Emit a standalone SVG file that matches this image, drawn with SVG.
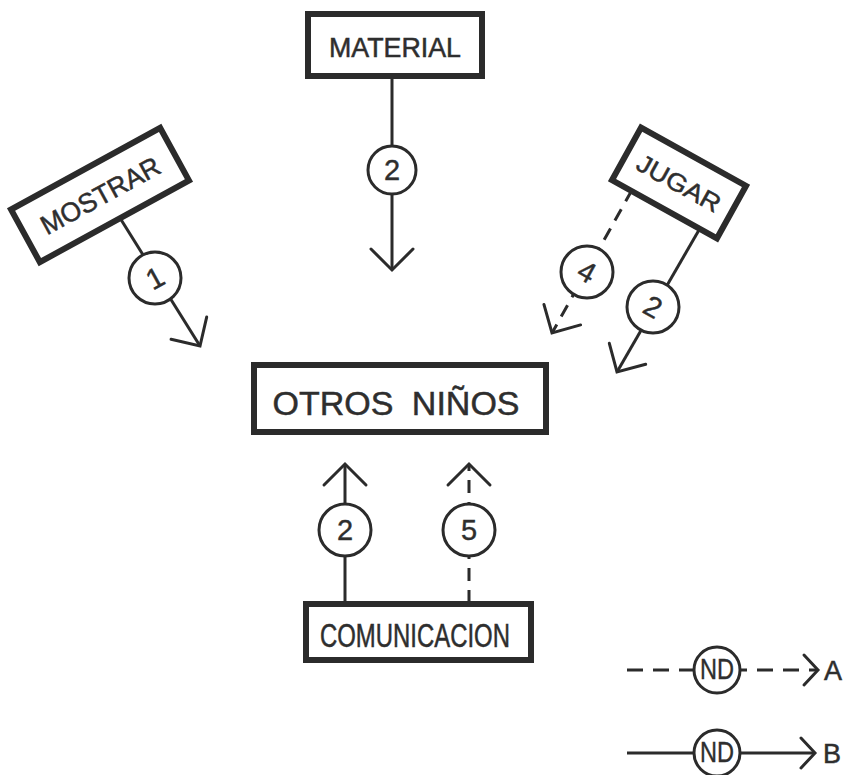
<svg xmlns="http://www.w3.org/2000/svg" width="844" height="775" viewBox="0 0 844 775">
  <style>
    .box { fill: #ffffff; stroke: #2b2b2b; stroke-width: 6; }
    .lbl { font-family: "Liberation Sans", Arial, sans-serif; fill: #2e2e2e; stroke: #2e2e2e; stroke-width: 0.5; text-anchor: middle; }
    .ln { fill: none; stroke: #2b2b2b; stroke-width: 3; }
    .dash { stroke-dasharray: 13 9; }
    .ldash { stroke-dasharray: 16 10; }
    .circ { fill: #ffffff; stroke: #2b2b2b; stroke-width: 3; }
    .num { font-family: "Liberation Sans", Arial, sans-serif; fill: #2e2e2e; stroke: #2e2e2e; stroke-width: 0.4; text-anchor: middle; font-size: 29px; }
  </style>
  <defs>
    <marker id="arr" markerUnits="userSpaceOnUse" markerWidth="60" markerHeight="60" viewBox="-30 -30 60 60" refX="0" refY="0" orient="auto" overflow="visible">
      <path d="M-21,-21 L0,0 L-21,21" fill="none" stroke="#2b2b2b" stroke-width="3" stroke-linecap="round" stroke-linejoin="miter"/>
    </marker>
    <marker id="arrs" markerUnits="userSpaceOnUse" markerWidth="40" markerHeight="40" viewBox="-20 -20 40 40" refX="0" refY="0" orient="auto" overflow="visible">
      <path d="M-14,-15 L0,0 L-14,15" fill="none" stroke="#2b2b2b" stroke-width="3" stroke-linecap="round"/>
    </marker>
  </defs>
  <rect width="844" height="775" fill="#ffffff"/>

  <g id="connectors">
    <!-- MATERIAL -> OTROS NIÑOS -->
    <line class="ln" x1="392" y1="78" x2="392" y2="270" marker-end="url(#arr)"/>
    <!-- MOSTRAR -> OTROS NIÑOS -->
    <line class="ln" x1="120" y1="218" x2="200" y2="346" marker-end="url(#arr)"/>
    <!-- JUGAR dashed -> OTROS NIÑOS -->
    <line class="ln dash" x1="632" y1="190" x2="552" y2="333" marker-end="url(#arr)"/>
    <!-- JUGAR solid -> OTROS NIÑOS -->
    <line class="ln" x1="699" y1="230" x2="617" y2="372" marker-end="url(#arr)"/>
    <!-- COMUNICACION -> OTROS NIÑOS -->
    <line class="ln" x1="345" y1="603" x2="345" y2="464" marker-end="url(#arr)"/>
    <line class="ln dash" x1="469" y1="603" x2="469" y2="464" marker-end="url(#arr)"/>

    <!-- edge labels -->
    <g id="lbl-material">
      <circle class="circ" cx="392" cy="170" r="24"/>
      <text class="num" x="392" y="180">2</text>
    </g>
    <g id="lbl-mostrar">
      <circle class="circ" cx="155" cy="278" r="26"/>
      <text class="num" transform="translate(155,278) rotate(-28.7)" x="0" y="10">1</text>
    </g>
    <g id="lbl-jugar-4">
      <circle class="circ" cx="587" cy="272" r="26"/>
      <text class="num" transform="translate(587,272) rotate(29)" x="0" y="10">4</text>
    </g>
    <g id="lbl-jugar-2">
      <circle class="circ" cx="653" cy="307" r="26"/>
      <text class="num" transform="translate(653,307) rotate(29)" x="0" y="10">2</text>
    </g>
    <g id="lbl-com-2">
      <circle class="circ" cx="345" cy="530" r="26"/>
      <text class="num" x="345" y="540">2</text>
    </g>
    <g id="lbl-com-5">
      <circle class="circ" cx="469" cy="530" r="26"/>
      <text class="num" x="469" y="540">5</text>
    </g>
  </g>

  <g id="node-material">
    <rect class="box" x="308" y="14" width="174" height="62"/>
    <text class="lbl" x="395" y="57" font-size="27" textLength="132" lengthAdjust="spacingAndGlyphs">MATERIAL</text>
  </g>

  <g id="node-mostrar" transform="translate(100,195) rotate(-28.7)">
    <rect class="box" x="-85" y="-30" width="170" height="60"/>
    <text class="lbl" x="0" y="10" font-size="27" textLength="132" lengthAdjust="spacingAndGlyphs">MOSTRAR</text>
  </g>

  <g id="node-jugar" transform="translate(679,183) rotate(29)">
    <rect class="box" x="-60" y="-30" width="120" height="60"/>
    <text class="lbl" x="0" y="9" font-size="25" textLength="92" lengthAdjust="spacingAndGlyphs">JUGAR</text>
  </g>

  <g id="node-otros">
    <rect class="box" x="254" y="365" width="292" height="67"/>
    <text class="lbl" x="396" y="415" font-size="34" word-spacing="9" stroke-width="0.2">OTROS NIÑOS</text>
  </g>

  <g id="node-comunicacion">
    <rect class="box" x="306" y="604" width="225" height="56"/>
    <text class="lbl" x="415" y="647" font-size="33" textLength="190" lengthAdjust="spacingAndGlyphs">COMUNICACION</text>
  </g>

  <g id="legend">
    <g id="legend-a">
      <line class="ln ldash" x1="627" y1="670" x2="818" y2="670" marker-end="url(#arrs)"/>
      <circle class="circ" cx="717" cy="670" r="23"/>
      <text class="num" x="717" y="679" font-size="25" textLength="34" lengthAdjust="spacingAndGlyphs">ND</text>
      <text class="lbl" x="833" y="680" font-size="27">A</text>
    </g>
    <g id="legend-b">
      <line class="ln" x1="627" y1="753" x2="815" y2="753" marker-end="url(#arrs)"/>
      <circle class="circ" cx="717" cy="753" r="23"/>
      <text class="num" x="717" y="762" font-size="25" textLength="34" lengthAdjust="spacingAndGlyphs">ND</text>
      <text class="lbl" x="832" y="763" font-size="27">B</text>
    </g>
  </g>
</svg>
